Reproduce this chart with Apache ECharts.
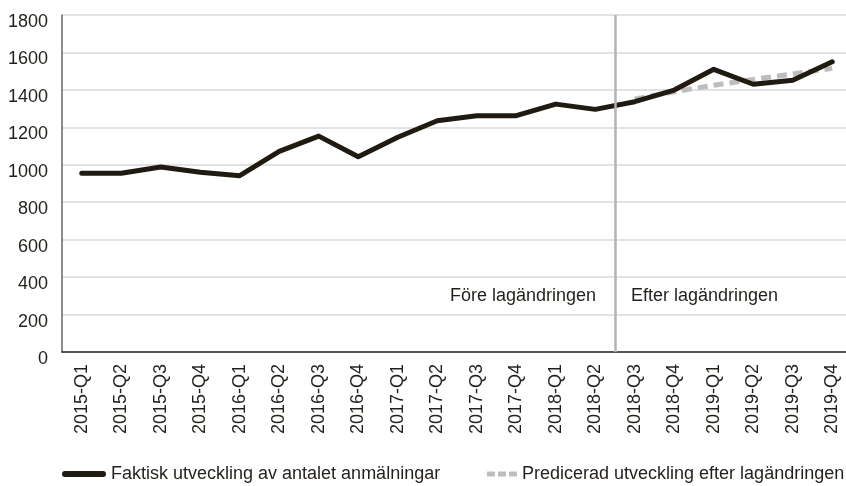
<!DOCTYPE html>
<html>
<head>
<meta charset="utf-8">
<script src="https://cdn.jsdelivr.net/npm/echarts@6/dist/echarts.min.js"></script>
<style>
  html, body { margin: 0; padding: 0; background: #fff; }
  #chart { width: 846px; height: 486px; }
</style>
</head>
<body>
<div id="chart"></div>
<script>
// kvartal
var quarters = [
  "2015-Q1", "2015-Q2", "2015-Q3", "2015-Q4",
  "2016-Q1", "2016-Q2", "2016-Q3", "2016-Q4",
  "2017-Q1", "2017-Q2", "2017-Q3", "2017-Q4",
  "2018-Q1", "2018-Q2", "2018-Q3", "2018-Q4",
  "2019-Q1", "2019-Q2", "2019-Q3", "2019-Q4"
];
var actual = [
  955, 955, 988, 960,
  942, 1072, 1153, 1043,
  1147, 1235, 1262, 1262,
  1324, 1296, 1337, 1399,
  1510, 1430, 1452, 1550
];
var predicted = [
  null, null, null, null,
  null, null, null, null,
  null, null, null, null,
  null, null, 1352, 1390,
  1425, 1456, 1485, 1515
];
var changeIndex = 14; // gränsen mellan 2018-Q2 och 2018-Q3
var labelValue = 300;
var actualName = "Faktisk utveckling av antalet anmälningar";
var predName = "Predicerad utveckling efter lagändringen";

var font = "'Liberation Sans', Arial, sans-serif";
var textColor = "#231f1a";
var chart = echarts.init(document.getElementById("chart"));

var option = {
  animation: false,
  grid: { left: 62, width: 790, top: 15, bottom: 134, outerBoundsMode: "none" },
  xAxis: [
    {
      type: "category",
      data: quarters,
      boundaryGap: true,
      axisLine: { show: true, lineStyle: { color: "#2b2620", width: 1.5 } },
      axisTick: { show: false },
      axisLabel: {
        rotate: 90,
        color: textColor,
        fontFamily: font,
        fontSize: 18,
        margin: 12,
        interval: 0
      }
    },
    {
      type: "value",
      min: 0,
      max: 20,
      show: false
    }
  ],
  yAxis: {
    type: "value",
    min: 0,
    max: 1800,
    interval: 200,
    axisLine: { show: true, lineStyle: { color: "#6b655e", width: 1.5 } },
    axisTick: { show: false },
    splitLine: { lineStyle: { color: "#d9d9d9", width: 1.5 } },
    axisLabel: {
      color: textColor,
      fontFamily: font,
      fontSize: 18,
      margin: 14,
      verticalAlign: "top",
      lineHeight: 14,
      formatter: function (v) { return String(v); }
    }
  },
  legend: [
    {
      left: 62,
      top: 465,
      padding: 0,
      itemWidth: 44,
      itemHeight: 6,
      textStyle: { color: textColor, fontFamily: font, fontSize: 18 },
      data: [{
        name: actualName,
        icon: "path://M3,0 L41,0 A3,3 0 0 1 41,6 L3,6 A3,3 0 0 1 3,0 Z"
      }]
    },
    {
      left: 487,
      top: 465,
      padding: 0,
      itemWidth: 30,
      itemHeight: 5,
      textStyle: { color: textColor, fontFamily: font, fontSize: 18 },
      data: [{
        name: predName,
        icon: "path://M0,0 L8,0 L8,5 L0,5 Z M11,0 L19,0 L19,5 L11,5 Z M22,0 L30,0 L30,5 L22,5 Z"
      }]
    }
  ],
  series: [
    {
      name: predName,
      type: "line",
      data: predicted,
      symbol: "none",
      lineStyle: { color: "#bdbdbd", width: 5, type: [10, 6] },
      itemStyle: { color: "#bdbdbd" },
      z: 2
    },
    {
      name: actualName,
      type: "line",
      data: actual,
      symbol: "none",
      lineStyle: { color: "#211a10", width: 5, cap: "round", join: "round" },
      itemStyle: { color: "#211a10" },
      z: 3
    },
    {
      name: "split",
      type: "line",
      xAxisIndex: 1,
      data: [],
      markLine: {
        silent: true,
        symbol: "none",
        lineStyle: { color: "#b3b3b3", width: 2.5, type: "solid" },
        label: { show: false },
        data: [{ xAxis: changeIndex }]
      },
      markPoint: {
        silent: true,
        symbol: "rect",
        symbolSize: 0,
        data: [
          {
            coord: [changeIndex, labelValue],
            label: {
              show: true,
              formatter: "Före lagändringen",
              position: "left",
              distance: 19,
              color: textColor,
              fontFamily: font,
              fontSize: 18
            }
          },
          {
            coord: [changeIndex, labelValue],
            label: {
              show: true,
              formatter: "Efter lagändringen",
              position: "right",
              distance: 16,
              color: textColor,
              fontFamily: font,
              fontSize: 18
            }
          }
        ]
      }
    }
  ]
};

chart.setOption(option);
</script>
</body>
</html>
